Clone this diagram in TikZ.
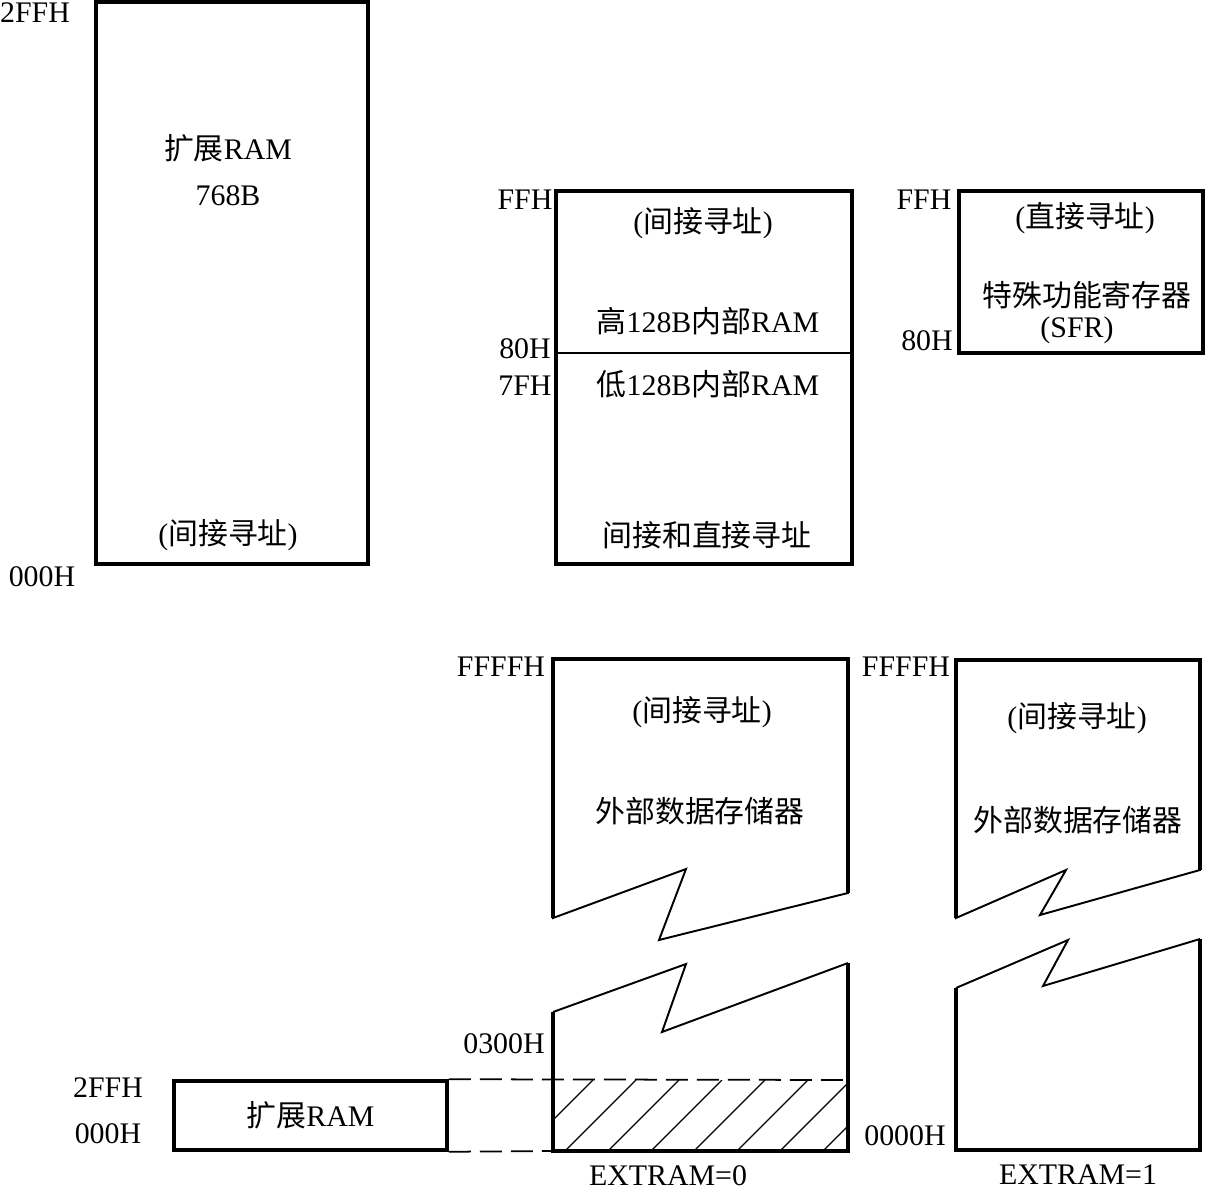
\documentclass[tikz,border=0pt]{standalone}
\usepackage{fontspec}
\setmainfont{Liberation Serif}
\newfontfamily\cjk[Scale=1.0]{Noto Sans CJK SC}
\usetikzlibrary{positioning}

\begin{document}
\begin{tikzpicture}[x=0.2mm, y=-0.2mm,
  font=\fontsize{17}{20}\selectfont,
  mem/.style={draw, line width=2pt},
  cut/.style={draw, line width=1.1pt, line join=miter},
  sep/.style={draw, line width=0.9pt},
  hatch/.style={line width=0.7pt},
  gap/.style={line width=1pt, dash pattern=on 4.4mm off 1.8mm},
  addr/.style={inner sep=0pt},
  lab/.style={inner sep=0pt, align=center}]
\useasboundingbox (0,0) rectangle (1206,1192);
% internal expanded RAM
\draw[mem] (96,2) rectangle (368,564);
\node[addr] (a2ffh) at (35,13) {2FFH};
\node[addr] (a000h) at (42,577) {000H};
\node[lab] (xname) at (228,148) {{\cjk 扩展}RAM};
\node[lab] (xsize) at (228,196) {768B};
\node[lab] (xmode) at (228,535) {({\cjk 间接寻址})};
% internal RAM 256B
\draw[mem] (556,191) rectangle (852,564);
\draw[sep] (556,353) -- (852,353);
\node[addr] (bffh) at (525,200) {FFH};
\node[addr] (b80h) at (525,349) {80H};
\node[addr] (b7fh) at (525,386) {7FH};
\node[lab] (bmode) at (703,223) {({\cjk 间接寻址})};
\node[lab] (bhigh) at (708,321) {{\cjk 高}128B{\cjk 内部}RAM};
\node[lab] (blow) at (708,384) {{\cjk 低}128B{\cjk 内部}RAM};
\node[lab] (bboth) at (707,535) {\cjk 间接和直接寻址};
% SFR
\draw[mem] (959,191) rectangle (1203,353);
\node[addr] (cffh) at (924,200) {FFH};
\node[addr] (c80h) at (927,341) {80H};
\node[lab] (cmode) at (1085,218) {({\cjk 直接寻址})};
\node[lab] (csfr) at (1087,295) {\cjk 特殊功能寄存器};
\node[lab] (cabbr) at (1077,330) {(SFR)};
% external data memory, EXTRAM=0
\draw[cut] (553,659) -- (553,918) -- (686,869) -- (659,940) -- (848,893) -- (848,659) -- cycle;
\draw[mem] (553,918) -- (553,659) -- (848,659) -- (848,893);
\draw[cut] (553,1012) -- (686,964) -- (662,1032) -- (848,963);
\draw[mem] (848,963) -- (848,1151) -- (553,1151) -- (553,1012);
\begin{scope}
  \clip (553,1080) rectangle (848,1151);
  \foreach \t in {550,593,...,937}
    \draw[hatch] (\t,1080) -- ++(-71,71);
\end{scope}
\coordinate (extop) at (848,1080);
\coordinate (exbot) at (553,1151);
\node[addr] (dffffh) at (501,667) {FFFFH};
\node[addr] (d0300h) at (504,1044) {0300H};
\node[lab] (dmode) at (702,712) {({\cjk 间接寻址})};
\node[lab] (dname) at (700,811) {\cjk 外部数据存储器};
\node[lab] (dflag) at (668,1176) {EXTRAM=0};
% external data memory, EXTRAM=1
\draw[cut] (956,660) -- (956,918) -- (1066,870) -- (1040,915) -- (1200,870) -- (1200,660) -- cycle;
\draw[mem] (956,918) -- (956,660) -- (1200,660) -- (1200,870);
\draw[cut] (956,988) -- (1068,940) -- (1043,986) -- (1200,939);
\draw[mem] (1200,939) -- (1200,1150) -- (956,1150) -- (956,988);
\node[addr] (effffh) at (906,667) {FFFFH};
\node[addr] (e0000h) at (905,1136) {0000H};
\node[lab] (emode) at (1077,718) {({\cjk 间接寻址})};
\node[lab] (ename) at (1078,820) {\cjk 外部数据存储器};
\node[lab] (eflag) at (1078,1175) {EXTRAM=1};
% expanded RAM mapped into the low external area
\node[mem, minimum width=54.6mm, minimum height=13.8mm, inner sep=0pt] (xram) at (310.5,1115.5) {{\cjk 扩展}RAM};
\node[addr] (f2ffh) at (108,1088) {2FFH};
\node[addr] (f000h) at (108,1134) {000H};
\draw[gap] (xram.north east) -- (extop);
\draw[gap] (xram.south east) -- (exbot);
\end{tikzpicture}
\end{document}
